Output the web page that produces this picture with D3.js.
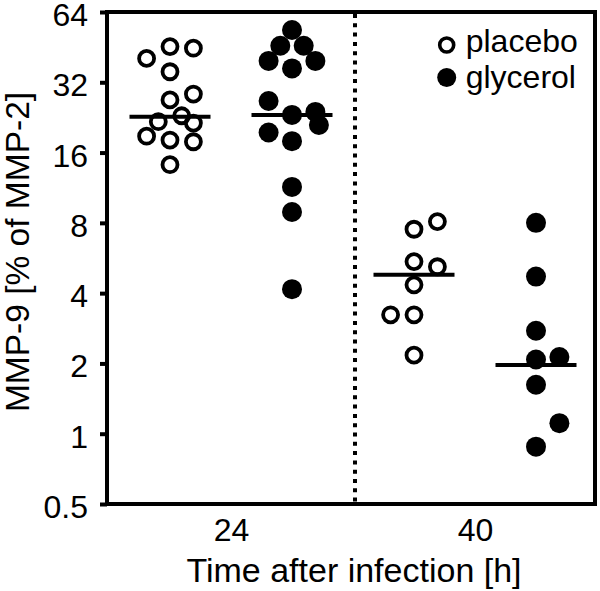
<!DOCTYPE html>
<html>
<head>
<meta charset="utf-8">
<script src="https://cdn.jsdelivr.net/npm/d3@7/dist/d3.min.js"></script>
<style>
  html, body { margin: 0; padding: 0; background: #fff; }
  text { font-family: "Liberation Sans", Arial, sans-serif; fill: #000; }
</style>
</head>
<body>
<svg id="chart" width="600" height="591"></svg>
<script>
// ---- data ----
const timepoints = ["24", "40"];
const groups = ["placebo", "glycerol"];
const yTickValues = [0.5, 1, 2, 4, 8, 16, 32, 64];
const xTitle = "Time after infection [h]";
const yTitle = "MMP-9 [% of MMP-2]";

const placebo24 = [40.5, 45.5, 44.8, 35.5, 26.9, 28.5, 21.7, 23.0, 21.4, 18.8, 18.1, 17.8, 14.2];
const placebo24Slot = [-2, 0, 2, 0, 0, 2, -1, 1, 2, -2, 0, 2, 0];
const glycerol24 = [53.6, 45.9, 45.9, 39.5, 39.5, 36.7, 26.6, 23.2, 23.9, 21.0, 19.5, 17.9, 11.4, 8.9, 4.16];
const glycerol24Slot = [0, -1, 1, -2, 2, 0, -2, 0, 2, 2.3, -2, 0, 0, 0, 0];
const placebo40 = [7.51, 8.1, 5.46, 5.19, 4.34, 3.23, 3.23, 2.17];
const placebo40Slot = [0, 2, 0, 2, 0, -2, 0, 0];
const glycerol40 = [8.0, 4.71, 2.76, 2.08, 2.13, 1.62, 1.11, 0.88];
const glycerol40Slot = [0, 0, 0, 0, 2, 0, 2, 0];

const medians = {
  "24": { placebo: 22.8, glycerol: 23.2 },
  "40": { placebo: 4.79, glycerol: 1.97 }
};

const series = [
  { time: "24", group: "placebo", values: placebo24, slots: placebo24Slot },
  { time: "24", group: "glycerol", values: glycerol24, slots: glycerol24Slot },
  { time: "40", group: "placebo", values: placebo40, slots: placebo40Slot },
  { time: "40", group: "glycerol", values: glycerol40, slots: glycerol40Slot }
];

// ---- layout ----
const plot = { left: 107, right: 595, top: 12, bottom: 504 };
const svg = d3.select("#chart");

const y = d3.scaleLog().base(2).domain([0.5, 64]).range([plot.bottom, plot.top]);
const x = d3.scalePoint().domain(timepoints).range([231, 475]);
const xg = d3.scaleBand().domain(groups).range([-122, 122]);
const slotStep = 11.7;

function cx(time, group, slot) {
  return x(time) + xg(group) + xg.bandwidth() / 2 + slot * slotStep;
}

// frame (top & right)
svg.append("path")
  .attr("d", `M${plot.left},${plot.top}H${plot.right}V${plot.bottom}`)
  .attr("fill", "none").attr("stroke", "#000").attr("stroke-width", 4)
  .attr("stroke-linejoin", "miter");

// divider
const divX = (x("24") + x("40")) / 2 + 2;
svg.append("line")
  .attr("x1", divX).attr("x2", divX)
  .attr("y1", plot.top + 2).attr("y2", plot.bottom - 2)
  .attr("stroke", "#000").attr("stroke-width", 4)
  .attr("stroke-dasharray", "4,5.3");

// y axis
const yAxis = d3.axisLeft(y).tickValues(yTickValues).tickSize(7).tickPadding(12)
  .tickFormat(d => d3.format("")(d));
const gy = svg.append("g").attr("transform", `translate(${plot.left},0)`).call(yAxis);
gy.select(".domain").attr("stroke-width", 4).attr("d", `M0,${plot.top - 2}V${plot.bottom + 2}`);
gy.selectAll(".tick line").attr("stroke-width", 4);
gy.selectAll(".tick text").style("font-size", "32px").attr("dy", "0.42em")
  .style("font-family", "'Liberation Sans', Arial, sans-serif");

// x axis
const xAxis = d3.axisBottom(x).tickSize(0).tickPadding(14);
const gx = svg.append("g").attr("transform", `translate(0,${plot.bottom})`).call(xAxis);
gx.select(".domain").attr("stroke-width", 4).attr("d", `M${plot.left - 2},0H${plot.right + 2}`);
gx.selectAll(".tick text").style("font-size", "32px").attr("dy", "0.71em")
  .style("font-family", "'Liberation Sans', Arial, sans-serif");

// axis titles
svg.append("text").attr("x", 354).attr("y", 582).attr("text-anchor", "middle")
  .style("font-size", "34px").text(xTitle);
svg.append("text").attr("transform", `translate(29,252) rotate(-90)`).attr("text-anchor", "middle")
  .style("font-size", "33.5px").text(yTitle);

// points
series.forEach(s => {
  const g = svg.append("g");
  g.selectAll("circle").data(s.values.map((v, i) => ({ v, slot: s.slots[i] })))
    .join("circle")
    .attr("cx", d => cx(s.time, s.group, d.slot))
    .attr("cy", d => y(d.v))
    .attr("r", s.group === "placebo" ? 7.5 : 10)
    .attr("fill", s.group === "placebo" ? "none" : "#000")
    .attr("stroke", s.group === "placebo" ? "#000" : "none")
    .attr("stroke-width", 3.8);
});

// medians
const medHalf = 40.5;
timepoints.forEach(t => {
  groups.forEach(gname => {
    const c = cx(t, gname, 0);
    svg.append("line")
      .attr("x1", c - medHalf).attr("x2", c + medHalf)
      .attr("y1", y(medians[t][gname])).attr("y2", y(medians[t][gname]))
      .attr("stroke", "#000").attr("stroke-width", 4);
  });
});

// legend
const legendSymbolY = [45, 77.5];
const legendTextY = [51.5, 88];
const legend = svg.append("g").attr("transform", "translate(446.7,0)");
groups.forEach((gname, i) => {
  legend.append("circle").attr("cy", legendSymbolY[i]).attr("r", gname === "placebo" ? 7 : 9.5)
    .attr("fill", gname === "placebo" ? "none" : "#000")
    .attr("stroke", gname === "placebo" ? "#000" : "none")
    .attr("stroke-width", 3.6);
  legend.append("text").attr("x", 19).attr("y", legendTextY[i])
    .style("font-size", "32px").text(gname);
});
</script>
</body>
</html>
